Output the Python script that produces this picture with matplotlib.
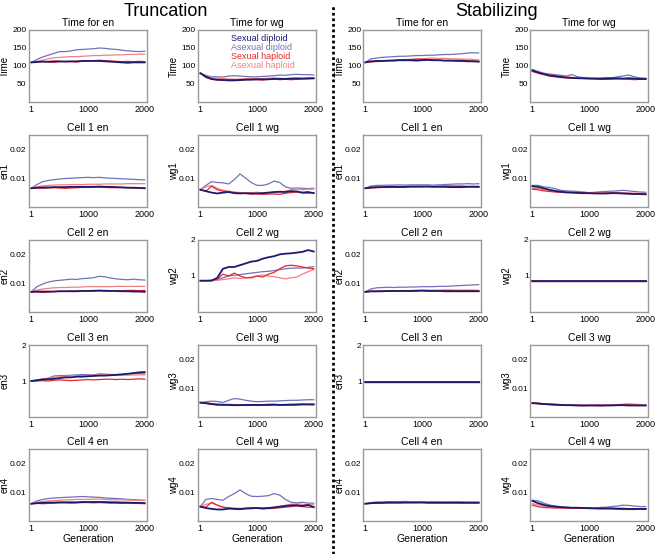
import matplotlib
matplotlib.use("Agg")
import matplotlib.pyplot as plt
from matplotlib.lines import Line2D
import numpy as np

plt.rcParams["font.family"] = ["Liberation Sans", "DejaVu Sans"]

# --------------------------------------
# data (generations sampled every 100, values read off the figure)

generations = [1] + list(range(100, 2001, 100))

series_names = ["Sexual diploid", "Asexual diploid", "Sexual haploid", "Asexual haploid"]
series_colors = ["#1c1a6e", "#7272ba", "#e8262a", "#f08282"]

# Truncation ---------------------------------------------------------
t_time_en = [
    [110, 111, 112, 112, 113, 113, 112, 113, 113, 114, 114, 114, 114, 113, 112, 111, 110, 109, 110, 110, 110],
    [110, 118, 125, 130, 135, 140, 140, 142, 145, 146, 147, 148, 150, 149, 147, 146, 144, 142, 141, 140, 141],
    [110, 112, 113, 111, 110, 112, 113, 112, 111, 113, 114, 115, 116, 115, 114, 113, 112, 113, 112, 113, 112],
    [110, 113, 116, 120, 123, 124, 125, 126, 126, 127, 128, 129, 129, 130, 130, 131, 131, 132, 132, 133, 133],
]
t_time_wg = [
    [80, 70, 64, 62, 61, 60, 60, 61, 62, 62, 63, 63, 63, 64, 64, 64, 65, 65, 65, 66, 66],
    [80, 74, 70, 70, 69, 72, 73, 72, 71, 70, 70, 71, 72, 73, 75, 74, 76, 77, 76, 76, 75],
    [80, 68, 63, 61, 61, 62, 62, 61, 62, 63, 62, 61, 63, 64, 62, 63, 62, 63, 64, 64, 65],
    [80, 72, 68, 66, 65, 64, 63, 64, 65, 66, 65, 65, 66, 67, 66, 65, 66, 67, 66, 65, 66],
]
t_en1 = [
    [65, 67, 68, 68, 69, 69, 69, 70, 70, 70, 70, 70, 71, 70, 70, 69, 68, 67, 67, 66, 65],
    [65, 78, 88, 92, 95, 97, 99, 100, 101, 102, 103, 102, 103, 101, 100, 99, 98, 97, 96, 95, 94],
    [65, 66, 65, 66, 67, 66, 65, 66, 67, 68, 68, 69, 69, 68, 67, 67, 68, 67, 66, 66, 66],
    [65, 70, 73, 75, 76, 77, 77, 78, 78, 78, 79, 79, 79, 80, 80, 80, 80, 81, 81, 81, 81],
]
t_wg1 = [
    [60, 55, 50, 47, 50, 52, 48, 47, 48, 47, 47, 48, 50, 52, 53, 52, 55, 54, 50, 52, 48],
    [60, 75, 88, 85, 84, 80, 95, 115, 100, 85, 75, 75, 80, 90, 85, 70, 65, 66, 65, 64, 65],
    [60, 55, 72, 60, 55, 52, 50, 48, 47, 45, 46, 44, 45, 45, 44, 48, 50, 52, 49, 48, 50],
    [60, 70, 75, 65, 58, 55, 52, 50, 48, 50, 51, 49, 48, 50, 52, 55, 60, 62, 60, 62, 62],
]
t_en2 = [
    [70, 71, 71, 71, 71, 72, 72, 72, 72, 73, 73, 73, 74, 73, 73, 73, 72, 72, 71, 71, 70],
    [70, 88, 97, 104, 108, 110, 112, 114, 113, 116, 117, 119, 124, 122, 118, 115, 113, 112, 114, 112, 111],
    [70, 69, 68, 69, 71, 72, 72, 73, 73, 74, 74, 75, 75, 75, 74, 74, 74, 75, 75, 74, 75],
    [70, 76, 80, 82, 84, 85, 85, 86, 86, 87, 88, 88, 88, 88, 88, 89, 89, 89, 89, 89, 89],
]
t_wg2 = [
    [0.87, 0.87, 0.87, 0.95, 1.20, 1.25, 1.25, 1.30, 1.35, 1.40, 1.42, 1.48, 1.52, 1.55, 1.60, 1.62, 1.63, 1.65, 1.67, 1.72, 1.68],
    [0.87, 0.87, 0.88, 0.90, 0.95, 1.00, 1.02, 1.04, 1.06, 1.08, 1.10, 1.12, 1.13, 1.15, 1.18, 1.20, 1.22, 1.22, 1.22, 1.24, 1.26],
    [0.87, 0.87, 0.88, 0.92, 1.05, 1.00, 1.08, 1.00, 0.95, 0.95, 1.00, 0.97, 1.05, 1.10, 1.20, 1.28, 1.30, 1.28, 1.25, 1.22, 1.20],
    [0.87, 0.87, 0.87, 0.88, 0.90, 0.92, 0.95, 0.93, 0.95, 0.97, 1.00, 1.03, 1.00, 0.98, 0.95, 0.92, 0.95, 0.97, 1.05, 1.12, 1.18],
]
t_en3 = [
    [1.00, 1.02, 1.04, 1.05, 1.06, 1.08, 1.10, 1.10, 1.12, 1.12, 1.13, 1.14, 1.15, 1.15, 1.16, 1.17, 1.18, 1.20, 1.22, 1.24, 1.25],
    [1.00, 1.03, 1.06, 1.08, 1.14, 1.15, 1.15, 1.16, 1.17, 1.18, 1.18, 1.17, 1.20, 1.19, 1.18, 1.18, 1.19, 1.20, 1.20, 1.21, 1.20],
    [1.00, 1.00, 1.01, 1.00, 1.02, 1.03, 1.02, 1.01, 1.02, 1.03, 1.04, 1.03, 1.04, 1.05, 1.05, 1.04, 1.05, 1.04, 1.05, 1.06, 1.05],
    [1.00, 1.02, 1.05, 1.07, 1.10, 1.12, 1.13, 1.14, 1.15, 1.15, 1.16, 1.16, 1.17, 1.17, 1.16, 1.17, 1.17, 1.16, 1.17, 1.17, 1.17],
]
t_wg3 = [
    [50, 48, 45, 43, 42, 42, 41, 41, 42, 42, 42, 42, 43, 43, 42, 42, 43, 43, 44, 44, 44],
    [50, 53, 55, 54, 50, 58, 64, 62, 58, 55, 53, 54, 55, 55, 56, 57, 58, 58, 59, 60, 60],
    [50, 47, 44, 42, 43, 42, 41, 41, 40, 41, 40, 41, 40, 42, 41, 42, 41, 42, 43, 43, 42],
    [50, 49, 47, 45, 44, 44, 43, 43, 43, 42, 42, 43, 42, 44, 43, 44, 44, 45, 45, 44, 44],
]
t_en4 = [
    [60, 62, 63, 64, 64, 65, 65, 65, 65, 66, 66, 66, 66, 66, 65, 65, 64, 64, 63, 63, 62],
    [60, 70, 75, 78, 80, 81, 82, 83, 84, 85, 84, 83, 82, 80, 79, 78, 77, 75, 74, 73, 72],
    [60, 61, 60, 61, 62, 63, 63, 62, 63, 64, 64, 63, 64, 63, 62, 62, 61, 62, 61, 61, 60],
    [60, 65, 68, 70, 71, 72, 73, 74, 75, 75, 75, 76, 76, 75, 74, 74, 73, 73, 72, 72, 71],
]
t_wg4 = [
    [50, 45, 42, 40, 40, 43, 42, 41, 43, 44, 45, 44, 45, 47, 50, 52, 54, 55, 52, 56, 48],
    [50, 75, 78, 75, 72, 85, 95, 108, 95, 86, 85, 86, 88, 95, 90, 75, 65, 63, 65, 62, 62],
    [50, 48, 65, 55, 48, 45, 43, 42, 44, 45, 44, 42, 43, 44, 46, 48, 50, 52, 50, 48, 48],
    [50, 58, 62, 55, 48, 46, 45, 44, 45, 47, 46, 45, 46, 48, 50, 55, 58, 60, 58, 57, 56],
]

# Stabilizing --------------------------------------------------------
s_time_en = [
    [110, 113, 114, 114, 115, 115, 116, 116, 116, 115, 116, 117, 116, 116, 115, 115, 114, 114, 113, 113, 112],
    [110, 120, 122, 124, 125, 126, 127, 127, 128, 129, 129, 130, 130, 131, 132, 132, 133, 134, 136, 137, 136],
    [110, 112, 113, 114, 115, 116, 117, 118, 118, 119, 119, 118, 117, 116, 115, 115, 116, 116, 115, 114, 113],
    [110, 111, 112, 113, 114, 115, 116, 117, 118, 119, 120, 121, 122, 121, 121, 120, 120, 119, 119, 118, 117],
]
s_time_wg = [
    [88, 82, 78, 74, 72, 70, 68, 67, 66, 66, 65, 65, 64, 65, 66, 66, 65, 66, 65, 64, 64],
    [90, 85, 80, 78, 76, 74, 72, 76, 70, 68, 67, 66, 67, 68, 67, 70, 72, 75, 70, 67, 66],
    [85, 80, 76, 72, 70, 68, 67, 66, 66, 65, 65, 64, 64, 63, 63, 64, 64, 63, 62, 63, 64],
    [85, 82, 78, 76, 73, 70, 69, 68, 67, 66, 66, 66, 65, 66, 66, 65, 65, 66, 66, 65, 65],
]
s_en1 = [
    [65, 68, 69, 69, 70, 70, 70, 70, 71, 71, 71, 71, 70, 70, 70, 69, 69, 69, 70, 70, 70],
    [65, 73, 75, 75, 76, 76, 77, 76, 77, 77, 77, 77, 76, 77, 78, 79, 80, 80, 81, 80, 81],
    [65, 66, 67, 68, 68, 69, 68, 69, 70, 70, 70, 71, 71, 72, 73, 73, 72, 72, 71, 71, 70],
    [65, 67, 68, 69, 70, 70, 70, 71, 71, 71, 71, 72, 72, 72, 72, 72, 73, 73, 72, 72, 72],
]
s_wg1 = [
    [72, 70, 65, 60, 56, 53, 51, 50, 49, 48, 48, 47, 47, 47, 48, 48, 47, 46, 45, 45, 44],
    [75, 75, 70, 68, 64, 58, 56, 55, 54, 52, 50, 51, 53, 54, 55, 56, 58, 56, 54, 52, 51],
    [62, 60, 56, 54, 52, 51, 50, 50, 49, 49, 48, 48, 47, 47, 48, 47, 47, 46, 46, 46, 45],
    [65, 64, 60, 57, 55, 53, 52, 51, 50, 50, 49, 49, 49, 50, 50, 50, 49, 49, 48, 48, 48],
]
s_en2 = [
    [70, 72, 72, 72, 73, 73, 73, 73, 73, 73, 74, 73, 73, 73, 72, 72, 72, 72, 72, 72, 72],
    [70, 80, 84, 85, 86, 85, 86, 86, 87, 87, 88, 88, 88, 89, 89, 90, 91, 92, 93, 94, 95],
    [70, 71, 71, 72, 72, 73, 73, 74, 74, 75, 75, 75, 74, 74, 75, 75, 74, 74, 75, 75, 74],
    [70, 72, 73, 73, 74, 74, 74, 74, 75, 75, 75, 75, 76, 76, 76, 76, 76, 76, 75, 75, 75],
]
s_wg2 = [[0.87] * 21 for _ in range(4)]
s_en3 = [[0.98] * 21 for _ in range(4)]
s_wg3 = [
    [48, 47, 45, 44, 43, 42, 41, 41, 40, 40, 40, 40, 40, 40, 40, 41, 41, 40, 40, 40, 40],
    [50, 48, 46, 45, 44, 43, 43, 42, 42, 41, 41, 41, 42, 42, 42, 43, 44, 45, 44, 43, 42],
    [48, 46, 44, 43, 42, 41, 41, 40, 40, 39, 40, 40, 39, 40, 41, 41, 42, 43, 41, 40, 40],
    [49, 47, 45, 44, 43, 42, 42, 41, 41, 41, 41, 41, 41, 42, 42, 42, 43, 43, 42, 41, 41],
]
s_en4 = [
    [60, 62, 63, 63, 64, 64, 64, 64, 64, 64, 64, 63, 63, 63, 63, 63, 63, 63, 63, 63, 63],
    [60, 64, 66, 66, 67, 67, 67, 68, 67, 67, 67, 66, 67, 67, 66, 66, 67, 67, 66, 66, 66],
    [60, 61, 62, 63, 63, 63, 63, 64, 64, 64, 65, 65, 65, 65, 65, 65, 65, 64, 64, 64, 64],
    [60, 62, 63, 64, 64, 65, 65, 65, 65, 66, 66, 66, 66, 66, 65, 65, 65, 65, 65, 65, 65],
]
s_wg4 = [
    [70, 62, 56, 52, 50, 48, 47, 46, 46, 45, 45, 44, 44, 44, 44, 43, 43, 42, 42, 42, 42],
    [72, 70, 62, 56, 52, 50, 48, 46, 45, 45, 44, 45, 47, 48, 50, 52, 55, 54, 52, 50, 50],
    [55, 50, 47, 46, 45, 45, 45, 44, 44, 44, 43, 43, 42, 42, 42, 41, 40, 40, 40, 41, 41],
    [60, 56, 52, 50, 48, 47, 46, 46, 45, 45, 45, 44, 44, 44, 43, 43, 43, 42, 42, 42, 42],
]

# panel kinds: ylim, yticks, yticklabels
TIME = ((0, 200), [50, 100, 150, 200], ["50", "100", "150", "200"])
SMALL = ((0, 0.025), [0.01, 0.02], ["0.01", "0.02"])
BIG = ((0, 2), [1, 2], ["1", "2"])

truncation = [
    ("Time for en", "Time", t_time_en, 1, TIME), ("Time for wg", "Time", t_time_wg, 1, TIME),
    ("Cell 1 en", "en1", t_en1, 1e-4, SMALL), ("Cell 1 wg", "wg1", t_wg1, 1e-4, SMALL),
    ("Cell 2 en", "en2", t_en2, 1e-4, SMALL), ("Cell 2 wg", "wg2", t_wg2, 1, BIG),
    ("Cell 3 en", "en3", t_en3, 1, BIG), ("Cell 3 wg", "wg3", t_wg3, 1e-4, SMALL),
    ("Cell 4 en", "en4", t_en4, 1e-4, SMALL), ("Cell 4 wg", "wg4", t_wg4, 1e-4, SMALL),
]
stabilizing = [
    ("Time for en", "Time", s_time_en, 1, TIME), ("Time for wg", "Time", s_time_wg, 1, TIME),
    ("Cell 1 en", "en1", s_en1, 1e-4, SMALL), ("Cell 1 wg", "wg1", s_wg1, 1e-4, SMALL),
    ("Cell 2 en", "en2", s_en2, 1e-4, SMALL), ("Cell 2 wg", "wg2", s_wg2, 1, BIG),
    ("Cell 3 en", "en3", s_en3, 1, BIG), ("Cell 3 wg", "wg3", s_wg3, 1e-4, SMALL),
    ("Cell 4 en", "en4", s_en4, 1e-4, SMALL), ("Cell 4 wg", "wg4", s_wg4, 1e-4, SMALL),
]

# --------------------------------------

W, H = 661, 554
fig = plt.figure(figsize=(W / 100, H / 100), dpi=100)

col_left = [29, 198, 363, 530]
label_gap = [19, 19, 18, 18]   # px from axes left edge to the y-label
tick_pad = [2, 2, 1, 1]
row_top = [30, 135, 240, 345, 449]
ax_w, ax_h = 118, 72
draw_order = [1, 3, 2, 0]


def make_panel(col, row, panel):
    title, ylabel, data, scale, (ylim, yticks, ylabels) = panel
    ax = fig.add_axes([col_left[col] / W, 1 - (row_top[row] + ax_h) / H, ax_w / W, ax_h / H])
    for i in draw_order:
        vals = np.array(data[i]) * scale
        lw = 1.3 if i == 0 else 0.9
        ax.plot(generations, vals, color=series_colors[i], lw=lw, label=series_names[i])
    ax.set_xlim(-40, 2040)
    ax.set_ylim(*ylim)
    ax.set_xticks([1, 1000, 2000])
    ax.set_xticklabels(["1", "1000", "2000"])
    ax.set_yticks(yticks)
    ax.set_yticklabels(ylabels)
    ax.tick_params(axis="x", length=0, labelsize=6.5, pad=2)
    ax.tick_params(axis="y", length=0, labelsize=6, pad=tick_pad[col])
    for sp in ax.spines.values():
        sp.set_color("#999999")
        sp.set_linewidth(1.0)
    ax.set_title(title, fontsize=7.5, pad=3)
    ax.set_ylabel(ylabel, fontsize=7)
    ax.yaxis.set_label_coords(-label_gap[col] / ax_w, 0.5)
    if row == 4:
        ax.set_xlabel("Generation", fontsize=7.5, labelpad=1)
    return ax


for side, panels in enumerate([truncation, stabilizing]):
    for k, panel in enumerate(panels):
        ax = make_panel(side * 2 + k % 2, k // 2, panel)
        if side == 0 and k == 1:
            handles = [Line2D([], [], color=c) for c in series_colors]
            leg = ax.legend(handles, series_names, loc="upper center", frameon=False,
                            handlelength=0, handletextpad=0, fontsize=6.5,
                            labelspacing=0.0, borderaxespad=0.0,
                            bbox_to_anchor=(0.55, 1.0))
            for txt, c in zip(leg.get_texts(), series_colors):
                txt.set_color(c)

fig.text(166 / W, 1 - 11 / H, "Truncation", fontsize=13, ha="center", va="center")
fig.text(497 / W, 1 - 11 / H, "Stabilizing", fontsize=13, ha="center", va="center")

fig.add_artist(Line2D([333 / W, 333 / W], [0, 1 - 5 / H], transform=fig.transFigure,
                      color="black", lw=2, linestyle=(0, (1, 1))))

fig.savefig("out.png", dpi=100)
